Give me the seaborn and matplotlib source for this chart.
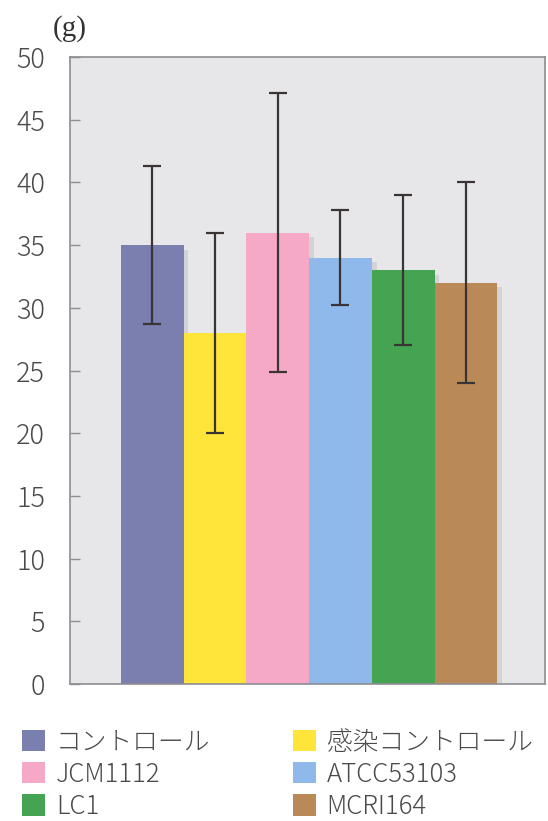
import numpy as np
import matplotlib
matplotlib.use("Agg")
import matplotlib.pyplot as plt
import matplotlib.patheffects as pe
from matplotlib.patches import Patch
import seaborn as sns

# Treatment groups, mean values and error (±) for each bar
groups = ["コントロール", "感染コントロール", "JCM1112", "ATCC53103", "LC1", "MCRI164"]
means = [35, 28, 36, 34, 33, 32]
errors = [6.3, 8.0, 11.1, 3.8, 6.0, 8.0]
colors = ["#7A7FAF", "#FFE43A", "#F6A9C7", "#8FB9EB", "#44A452", "#B98A58"]
yticks = [0, 5, 10, 15, 20, 25, 30, 35, 40, 45, 50]
unit_label = "(g)"

sns.set_theme(style="white")
plt.rcParams["font.family"] = ["Noto Sans CJK JP", "DejaVu Sans"]
plt.rcParams["font.weight"] = "light"

fig = plt.figure(figsize=(5.48, 8.21), dpi=100)
ax = fig.add_axes([70 / 548, 1 - 684 / 821, 475 / 548, 627 / 821])
ax.set_facecolor("#E7E7EA")

sns.barplot(x=groups, y=means, hue=groups, palette=colors, width=1.0,
            saturation=1, linewidth=0, legend=False, ax=ax, zorder=2)

# soft drop shadow behind each bar
for bar in ax.patches:
    bar.set_path_effects([
        pe.SimplePatchShadow(offset=(3.4, -3.4), shadow_rgbFace="#B4B4BC", alpha=0.4),
        pe.Normal(),
    ])

ax.errorbar(np.arange(len(groups)), means, yerr=errors, fmt="none",
            ecolor="#3A3434", elinewidth=1.6, capsize=6.5, capthick=1.6, zorder=3)

ax.set_xlim(-1.31, 6.26)
ax.set_ylim(0, 50)
ax.set_yticks(yticks)
ax.set_yticklabels([str(t) for t in yticks])
ax.set_xticks([])
ax.set_xlabel("")
ax.set_ylabel("")

for side in ["left", "right", "top", "bottom"]:
    ax.spines[side].set_visible(True)
    ax.spines[side].set_color("#8E8E92")
    ax.spines[side].set_linewidth(1.2)

ax.tick_params(axis="y", direction="in", length=7, width=1.0, color="#8E8E92",
               pad=18, labelsize=19.5, labelcolor="#4A4A4A", left=True)

fig.text(70 / 548, 1 - 29 / 821, unit_label, ha="center", va="center",
         fontsize=21, family="Liberation Serif", weight="normal", color="#333333")

# legend laid out in two columns, filled row by row
order = [0, 2, 4, 1, 3, 5]
handles = [Patch(facecolor=colors[i], edgecolor="none") for i in order]
labels = [groups[i] for i in order]
fig.legend(handles, labels, ncol=2, loc="upper left",
           bbox_to_anchor=(22 / 548, 1 - 729 / 821), frameon=False,
           fontsize=18.5, handlelength=0.9, handleheight=0.9,
           handletextpad=0.42, columnspacing=3.2, labelspacing=0.22,
           borderpad=0, borderaxespad=0, labelcolor="#4A4A4A")

fig.savefig("out.png", dpi=100)
